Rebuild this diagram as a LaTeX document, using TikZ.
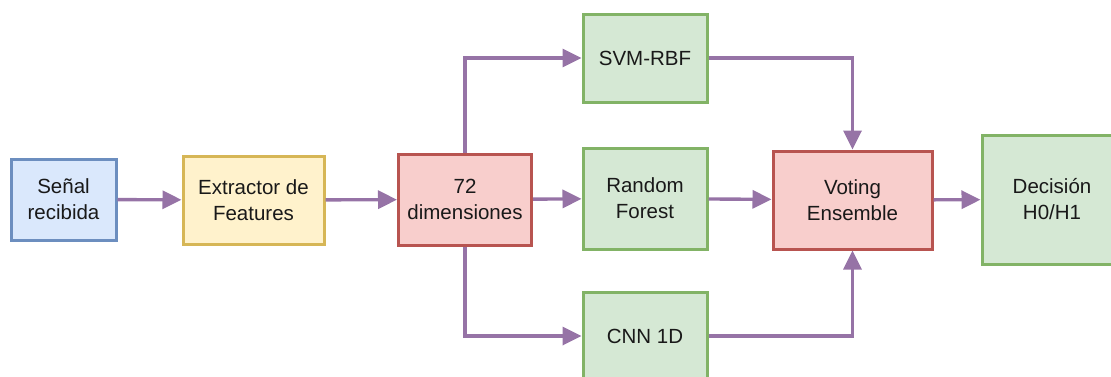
\documentclass[tikz,border=0pt]{standalone}
\usepackage{fontspec}
\setmainfont{Liberation Sans}
\usetikzlibrary{arrows.meta}
\definecolor{bluefill}{HTML}{DAE8FC}\definecolor{blueline}{HTML}{6C8EBF}
\definecolor{yelfill}{HTML}{FFF2CC}\definecolor{yelline}{HTML}{D6B656}
\definecolor{redfill}{HTML}{F8CECC}\definecolor{redline}{HTML}{B85450}
\definecolor{grnfill}{HTML}{D5E8D4}\definecolor{grnline}{HTML}{82B366}
\definecolor{flow}{HTML}{9673A6}
\tikzset{
  box/.style={draw, line width=3pt, inner sep=0pt, align=center,
    font=\fontsize{20.5}{26}\selectfont, text=black!90},
  bluebox/.style={box, fill=bluefill, draw=blueline},
  yelbox/.style={box, fill=yelfill, draw=yelline},
  redbox/.style={box, fill=redfill, draw=redline},
  grnbox/.style={box, fill=grnfill, draw=grnline},
  link/.style={draw=flow, line width=3.4pt, -{Triangle[length=19pt,width=18pt]}},
}
\begin{document}
\begin{tikzpicture}[x=1pt,y=-1pt]
\useasboundingbox (0,0) rectangle (1111,376);
% processing chain
\node[bluebox, minimum width=105pt, minimum height=81pt] (sen) at (63.5,199.5) {Señal\\recibida};
\node[yelbox, minimum width=141pt, minimum height=88pt] (ext) at (253.5,200) {Extractor de\\Features};
\node[redbox, minimum width=133pt, minimum height=91pt] (dim) at (465,199.5) {72\\dimensiones};
% classifiers
\node[grnbox, minimum width=124pt, minimum height=88pt] (svm) at (645,58) {SVM-RBF};
\node[grnbox, minimum width=124pt, minimum height=101pt] (rf) at (645,198.5) {Random\\Forest};
\node[grnbox, minimum width=124pt, minimum height=88pt] (cnn) at (645,336) {CNN 1D};
% ensemble and output
\node[redbox, minimum width=159pt, minimum height=98pt] (vot) at (852.5,200) {Voting\\Ensemble};
\node[grnbox, minimum width=140pt, minimum height=129pt] (dec) at (1052,199.5) {Decisión\\H0/H1};
% connectors
\draw[link] (sen) -- (ext);
\draw[link] (ext) -- (dim);
\draw[link] (dim) -- (rf);
\draw[link] (dim.north) |- (svm.west);
\draw[link] (dim.south) |- (cnn.west);
\draw[link] (rf) -- (vot);
\draw[link] (svm.east) -| (vot.north);
\draw[link] (cnn.east) -| (vot.south);
\draw[link] (vot) -- (dec);
\end{tikzpicture}
\end{document}
